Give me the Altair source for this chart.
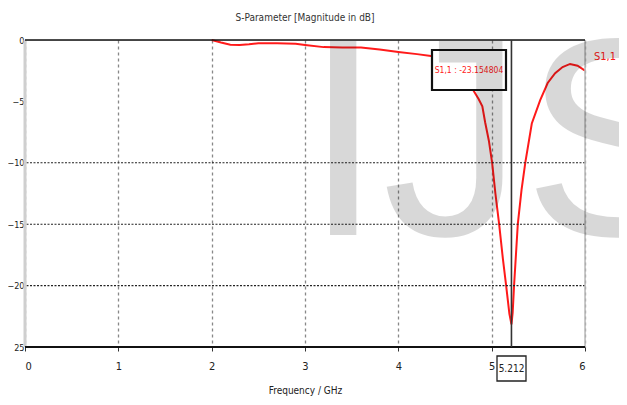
import altair as alt
import pandas as pd

# ---- data ----
freq = [2.0, 2.1, 2.2, 2.3, 2.4, 2.5, 2.7, 2.9, 3.0, 3.2, 3.4, 3.6, 3.8, 4.0, 4.2,
        4.35, 4.45, 4.55, 4.68, 4.75, 4.8, 4.86, 4.9, 4.93, 4.97, 5.005, 5.04, 5.08,
        5.12, 5.155, 5.19, 5.212, 5.225, 5.24, 5.28, 5.32, 5.36, 5.43, 5.52, 5.6,
        5.68, 5.76, 5.84, 5.92, 6.0]
s11 = [0.0, -0.2, -0.38, -0.4, -0.35, -0.27, -0.27, -0.3, -0.4, -0.58, -0.62, -0.62,
       -0.78, -0.97, -1.15, -1.3, -1.5, -1.8, -2.5, -3.2, -4.05, -4.8, -5.4, -6.7,
       -8.2, -10.0, -12.5, -15.0, -17.8, -20.0, -22.3, -23.15, -22.2, -20.0, -15.0,
       -12.2, -10.0, -6.8, -4.9, -3.5, -2.7, -2.2, -1.95, -2.1, -2.5]
x_ticks = [0, 1, 2, 3, 4, 5, 6]
y_ticks = [0, -5, -10, -15, -20, -25]
h_grid = [-10, -15, -20]
marker_freq = [5.212]
marker_text = ["S1,1 : -23.154804"]
marker_freq_text = ["5.212"]
trace_name = ["S1,1"]
title_text = ["S-Parameter [Magnitude in dB]"]
watermark = ["IJS"]

W, H = 560, 307
FONT = "DejaVu Sans Condensed, DejaVu Sans, sans-serif"
RED = "#ff1a1a"

xs = alt.Scale(domain=[0, 6], nice=False, zero=False)
ys = alt.Scale(domain=[-25, 0], nice=False, zero=False)

df = pd.DataFrame({"f": freq, "s": s11})

x_axis = alt.Axis(values=x_ticks, grid=True, gridColor="#888888", gridDash=[3, 3],
                  gridWidth=1.3, domain=False, ticks=True, tickSize=4, tickColor="#333",
                  labelFont=FONT, labelFontSize=11, labelPadding=9, labelColor="#222",
                  title="Frequency / GHz", titleFont=FONT, titleFontSize=10,
                  titleFontWeight="normal", titleColor="#222", titlePadding=14)
y_axis = alt.Axis(values=y_ticks, grid=False, domain=False, ticks=False,
                  labelFont=FONT, labelFontSize=9, labelPadding=1, labelColor="#222",
                  labelExpr="datum.value == -25 ? '25' : datum.label", title=None)

curve = alt.Chart(df).mark_line(color=RED, strokeWidth=2).encode(
    x=alt.X("f:Q", scale=xs, axis=x_axis),
    y=alt.Y("s:Q", scale=ys, axis=y_axis),
)

hgrid = alt.Chart(pd.DataFrame({"g": h_grid})).mark_rule(
    color="#222", strokeDash=[2, 1.5], strokeWidth=1.1
).encode(y=alt.Y("g:Q", scale=ys, axis=y_axis))

top_line = alt.Chart(pd.DataFrame({"g": [0]})).mark_rule(color="#111", strokeWidth=1.6).encode(
    y=alt.Y("g:Q", scale=ys, axis=y_axis))
bottom_line = alt.Chart(pd.DataFrame({"g": [-25]})).mark_rule(color="#111", strokeWidth=2).encode(
    y=alt.Y("g:Q", scale=ys, axis=y_axis))
left_line = alt.Chart(pd.DataFrame({"g": [0]})).mark_rule(color="#cfcfcf", strokeWidth=3).encode(
    x=alt.X("g:Q", scale=xs, axis=x_axis))
right_line = alt.Chart(pd.DataFrame({"g": [6]})).mark_rule(color="#bbbbbb", strokeWidth=1.5).encode(
    x=alt.X("g:Q", scale=xs, axis=x_axis))

marker_line = alt.Chart(pd.DataFrame({"m": marker_freq})).mark_rule(
    color="#333", strokeWidth=1.6).encode(x=alt.X("m:Q", scale=xs, axis=x_axis))

# annotation box
ann_box = alt.Chart(pd.DataFrame({"t": marker_text})).mark_rect(
    fill="white", stroke="#111", strokeWidth=2.2).encode(
    x=alt.value(407), x2=alt.value(481), y=alt.value(10), y2=alt.value(50))
ann_text = alt.Chart(pd.DataFrame({"t": marker_text})).mark_text(
    color=RED, font=FONT, fontSize=8.5, align="center", baseline="middle").encode(
    x=alt.value(444), y=alt.value(30), text="t:N")

# marker frequency box below the axis
mf_box = alt.Chart(pd.DataFrame({"t": marker_freq_text})).mark_rect(
    fill="white", stroke="#222", strokeWidth=1.3).encode(
    x=alt.value(472), x2=alt.value(501), y=alt.value(316), y2=alt.value(341))
mf_text = alt.Chart(pd.DataFrame({"t": marker_freq_text})).mark_text(
    color="#222", font=FONT, fontSize=10, align="center", baseline="middle").encode(
    x=alt.value(486.5), y=alt.value(328.5), text="t:N")

trace_label = alt.Chart(pd.DataFrame({"t": trace_name})).mark_text(
    color=RED, font=FONT, fontSize=11, align="left", baseline="middle").encode(
    x=alt.value(569), y=alt.value(17), text="t:N")

title = alt.Chart(pd.DataFrame({"t": title_text})).mark_text(
    color="#333", font=FONT, fontSize=10, align="center", baseline="middle").encode(
    x=alt.value(W / 2), y=alt.value(-22), text="t:N")

wm = alt.Chart(pd.DataFrame({"t": watermark})).mark_text(
    color="#000000", opacity=0.15, font="Liberation Sans",
    fontSize=282, align="left", baseline="alphabetic").encode(
    x=alt.value(279), y=alt.value(195), text="t:N")

chart = alt.layer(
    curve, hgrid, left_line, right_line, top_line, bottom_line,
    marker_line, ann_box, ann_text, mf_box, mf_text, trace_label, title, wm
).properties(
    width=W, height=H,
    autosize=alt.AutoSizeParams(type="none"),
    padding={"left": 17, "top": 32, "right": 34, "bottom": 50},
).configure_view(stroke=None).configure(background="white")

chart.save("out.html", embed_options={"renderer": "svg", "actions": False})
